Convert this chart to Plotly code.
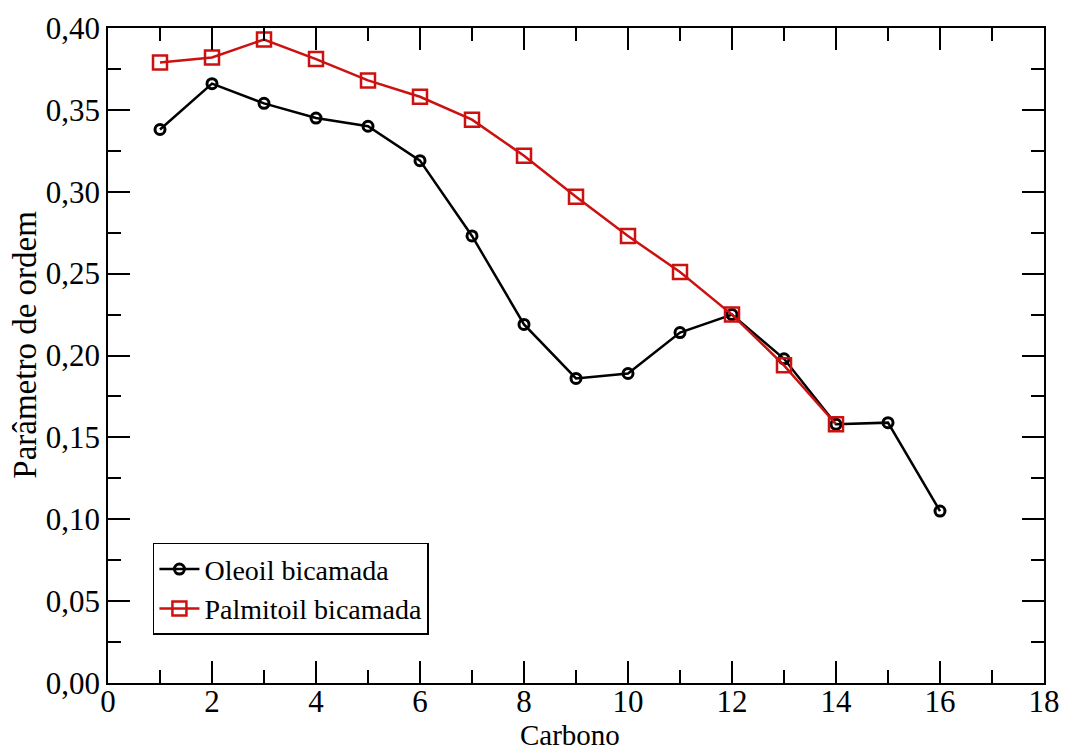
import plotly.graph_objects as go

carbono = list(range(1, 17))
oleoil = [0.338, 0.366, 0.354, 0.345, 0.340, 0.319, 0.273, 0.219, 0.186, 0.189,
          0.214, 0.225, 0.198, 0.158, 0.159, 0.105]
carbono_p = list(range(1, 15))
palmitoil = [0.379, 0.382, 0.393, 0.381, 0.368, 0.358, 0.344, 0.322, 0.297, 0.273,
             0.251, 0.225, 0.194, 0.158]

RED = "#cc1111"
FONT = "Liberation Serif, Times New Roman, DejaVu Serif, serif"

fig = go.Figure()
fig.add_trace(go.Scatter(
    x=carbono, y=oleoil, mode="lines+markers", name="Oleoil bicamada",
    line=dict(color="black", width=2.5),
    marker=dict(symbol="circle-open", size=10, color="black", line=dict(width=3)),
))
fig.add_trace(go.Scatter(
    x=carbono_p, y=palmitoil, mode="lines+markers", name="Palmitoil bicamada",
    line=dict(color=RED, width=2.5),
    marker=dict(symbol="square-open", size=14, color=RED, line=dict(width=2.5)),
))

axis_common = dict(
    showgrid=False, zeroline=False, showline=True, linecolor="black", linewidth=1.5,
    mirror="allticks", ticks="inside", ticklen=22, tickwidth=1.5, tickcolor="black",
    tickfont=dict(family=FONT, size=31, color="black"), automargin=False,
)

fig.update_xaxes(
    range=[0, 18], dtick=2, tick0=0, ticklabelstandoff=-10,
    minor=dict(ticks="inside", ticklen=13, tickwidth=1.5, tickcolor="black", dtick=1),
    **axis_common,
)
fig.update_yaxes(
    range=[0, 0.40], dtick=0.05, tick0=0, tickformat=".2f",
    minor=dict(ticks="inside", ticklen=13, tickwidth=1.5, tickcolor="black", dtick=0.025),
    **axis_common,
)

fig.add_annotation(
    text="Carbono", xref="paper", yref="paper", x=0.494, y=-0.0794,
    xanchor="center", yanchor="middle", showarrow=False,
    font=dict(family=FONT, size=29, color="black"),
)
fig.add_annotation(
    text="Parâmetro de ordem", xref="paper", yref="paper", x=-0.089, y=0.516,
    xanchor="center", yanchor="middle", textangle=-90, showarrow=False,
    font=dict(family=FONT, size=33, color="black"),
)

fig.update_layout(
    width=1065, height=751,
    margin=dict(l=108, r=21, t=28, b=68),
    paper_bgcolor="white", plot_bgcolor="white",
    separators=", ",
    showlegend=True,
    legend=dict(
        x=0.048, y=0.214, xanchor="left", yanchor="top",
        bordercolor="black", borderwidth=1.5, bgcolor="white",
        font=dict(family=FONT, size=28, color="black"),
        itemwidth=40, tracegroupgap=4,
    ),
)

fig.write_html("out.html")
